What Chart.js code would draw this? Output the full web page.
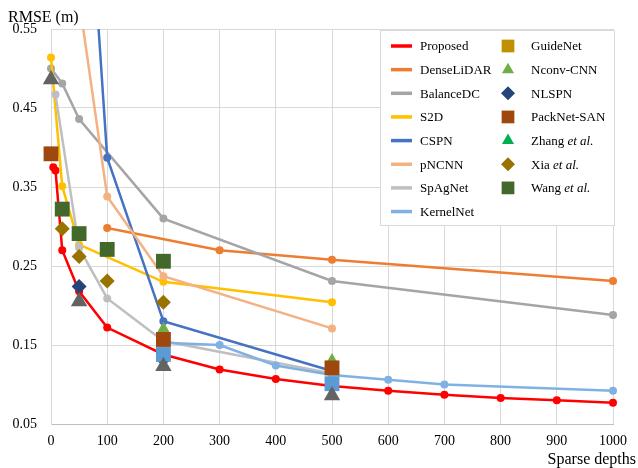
<!DOCTYPE html>
<html>
<head>
<meta charset="utf-8">
<script src="https://cdn.jsdelivr.net/npm/chart.js@4.4.1/dist/chart.umd.min.js"></script>
<style>
    html, body { margin: 0; padding: 0; background: #fff; }
</style>
</head>
<body>
<canvas id="rmseChart" width="638" height="468"></canvas>
<script>
// axis ticks
const depthTicks = [0, 100, 200, 300, 400, 500, 600, 700, 800, 900, 1000];
const rmseTicks = [0.05, 0.15, 0.25, 0.35, 0.45, 0.55];

// line series (sparse depth, RMSE)
const proposedX = [4, 8, 20, 50, 100, 200, 300, 400, 500, 600, 700, 800, 900, 1000];
const proposedY = [0.375, 0.371, 0.270, 0.218, 0.172, 0.138, 0.119, 0.107, 0.098, 0.092, 0.087, 0.083, 0.080, 0.077];
const denseLidarX = [100, 300, 500, 1000];
const denseLidarY = [0.298, 0.270, 0.258, 0.231];
const balanceX = [0, 20, 50, 200, 500, 1000];
const balanceY = [0.500, 0.481, 0.436, 0.310, 0.231, 0.188];
const s2dX = [0, 20, 50, 200, 500];
const s2dY = [0.514, 0.351, 0.277, 0.230, 0.204];
const cspnX = [50, 100, 200, 500];
const cspnY = [0.92, 0.387, 0.180, 0.117];
const pncnnX = [50, 100, 200, 500];
const pncnnY = [0.587, 0.338, 0.237, 0.171];
const spagX = [8, 50, 100, 200, 500];
const spagY = [0.467, 0.273, 0.209, 0.155, 0.114];
const kernelX = [200, 300, 400, 500, 600, 700, 1000];
const kernelY = [0.153, 0.150, 0.124, 0.112, 0.106, 0.100, 0.092];

// single-result methods (markers)
const guideX = [200, 500];
const guideY = [0.157, 0.121];
const nconvX = [200, 500];
const nconvY = [0.171, 0.131];
const nlspnX = [50, 200, 500];
const nlspnY = [0.224, 0.132, 0.097];
const packnetX = [0, 200, 500];
const packnetY = [0.392, 0.157, 0.121];
const zhangX = [500];
const zhangY = [0.088];
const xiaX = [20, 50, 100, 200];
const xiaY = [0.297, 0.262, 0.231, 0.204];
const wangX = [20, 50, 100, 200];
const wangY = [0.322, 0.291, 0.271, 0.256];
// extra markers with no legend entry
const blueSqX = [200, 500];
const blueSqY = [0.138, 0.101];
const grayTriX = [0, 50, 200, 500];
const grayTriY = [0.486, 0.205, 0.123, 0.086];

const serif = '"Liberation Serif", "Times New Roman", serif';

function pts(xs, ys) {
    return xs.map((x, i) => ({ x: x, y: ys[i] }));
}

function lineSet(label, xs, ys, color) {
    return {
        label: label,
        data: pts(xs, ys),
        showLine: true,
        borderColor: color,
        backgroundColor: color,
        borderWidth: 2.5,
        pointRadius: 4,
        pointBorderWidth: 0,
        pointBackgroundColor: color,
        tension: 0,
        clip: { left: 10, top: 0, right: 10, bottom: 10 },
        legendType: 'line'
    };
}

function markerSet(label, xs, ys, color, style, radius, inLegend = true) {
    return {
        label: label,
        data: pts(xs, ys),
        showLine: false,
        backgroundColor: color,
        borderColor: color,
        pointStyle: style,
        pointRadius: radius,
        pointBorderWidth: 0,
        clip: false,
        legendType: inLegend ? 'marker' : 'none'
    };
}

const datasets = [
    lineSet('Proposed', proposedX, proposedY, '#ff0000'),
    lineSet('DenseLiDAR', denseLidarX, denseLidarY, '#ed7d31'),
    lineSet('BalanceDC', balanceX, balanceY, '#a5a5a5'),
    lineSet('S2D', s2dX, s2dY, '#ffc000'),
    lineSet('CSPN', cspnX, cspnY, '#4472c4'),
    lineSet('pNCNN', pncnnX, pncnnY, '#f4b183'),
    lineSet('SpAgNet', spagX, spagY, '#bfbfbf'),
    lineSet('KernelNet', kernelX, kernelY, '#7fb2e2'),
    markerSet('GuideNet', guideX, guideY, '#bf9000', 'rect', 10),
    markerSet('Nconv-CNN', nconvX, nconvY, '#70ad47', 'triangle', 7),
    markerSet('NLSPN', nlspnX, nlspnY, '#264478', 'rectRot', 7.5),
    markerSet('PackNet-SAN', packnetX, packnetY, '#9e480e', 'rect', 10.5),
    markerSet('Zhang et al.', zhangX, zhangY, '#00b050', 'triangle', 7),
    markerSet('Xia et al.', xiaX, xiaY, '#997300', 'rectRot', 7.5),
    markerSet('Wang et al.', wangX, wangY, '#43682b', 'rect', 10.5),
    markerSet('', blueSqX, blueSqY, '#5b9bd5', 'rect', 10.5, false),
    markerSet('', grayTriX, grayTriY, '#636363', 'triangle', 9.5, false)
];
// later series drawn on top, like the source chart
datasets.forEach((d, i) => { d.order = datasets.length - i; });

function drawLabel(ctx, text, x, y) {
    const m = text.match(/^(.*) (et al\.)$/);
    ctx.font = '13px ' + serif;
    if (!m) {
        ctx.fillText(text, x, y);
        return;
    }
    const head = m[1] + ' ';
    ctx.fillText(head, x, y);
    const w = ctx.measureText(head).width;
    ctx.font = 'italic 13px ' + serif;
    ctx.fillText(m[2], x + w, y);
}

const legendBox = {
    id: 'legendBox',
    afterDraw(chart) {
        const ctx = chart.ctx;
        ctx.save();

        // axis titles
        ctx.fillStyle = '#000';
        ctx.font = '16px ' + serif;
        ctx.textBaseline = 'alphabetic';
        ctx.textAlign = 'left';
        ctx.fillText('RMSE (m)', 8, 22);
        ctx.textAlign = 'right';
        ctx.fillText('Sparse depths', 636, 464);

        // legend frame
        ctx.fillStyle = '#fff';
        ctx.fillRect(380, 30, 235, 196);
        ctx.strokeStyle = '#d9d9d9';
        ctx.lineWidth = 1;
        ctx.strokeRect(380.5, 30.5, 234, 195);

        const rowTop = 46;
        const rowStep = 23.65;
        let lineRow = 0;
        let markRow = 0;
        ctx.textAlign = 'left';
        ctx.textBaseline = 'middle';
        chart.data.datasets.forEach(ds => {
            if (ds.legendType === 'line') {
                const y = rowTop + lineRow * rowStep;
                ctx.strokeStyle = ds.borderColor;
                ctx.lineWidth = 3.5;
                ctx.beginPath();
                ctx.moveTo(391, y);
                ctx.lineTo(412, y);
                ctx.stroke();
                ctx.fillStyle = '#000';
                drawLabel(ctx, ds.label, 420, y + 1);
                lineRow++;
            } else if (ds.legendType === 'marker') {
                const y = rowTop + markRow * rowStep;
                ctx.fillStyle = ds.backgroundColor;
                ctx.strokeStyle = ds.backgroundColor;
                const r = ds.pointStyle === 'rect' ? 9 : 7;
                Chart.helpers.drawPoint(ctx, { pointStyle: ds.pointStyle, radius: r, rotation: 0, borderWidth: 0 }, 508, y);
                ctx.fillStyle = '#000';
                drawLabel(ctx, ds.label, 531, y + 1);
                markRow++;
            }
        });
        ctx.restore();
    }
};

new Chart(document.getElementById('rmseChart'), {
    type: 'scatter',
    data: { datasets: datasets },
    options: {
        responsive: false,
        animation: false,
        devicePixelRatio: 1,
        layout: { padding: { top: 29, right: 25, left: 0, bottom: 0 } },
        plugins: {
            legend: { display: false },
            tooltip: { enabled: false }
        },
        scales: {
            x: {
                type: 'linear',
                min: depthTicks[0],
                max: depthTicks[depthTicks.length - 1],
                afterBuildTicks: s => { s.ticks = depthTicks.map(v => ({ value: v })); },
                ticks: {
                    color: '#000',
                    padding: 9,
                    maxRotation: 0,
                    autoSkip: false,
                    callback: v => String(v),
                    font: { family: serif, size: 14 }
                },
                grid: { color: '#d9d9d9', drawTicks: false },
                border: { color: '#bfbfbf' },
                afterFit: s => { s.height = 44; }
            },
            y: {
                type: 'linear',
                min: rmseTicks[0],
                max: rmseTicks[rmseTicks.length - 1],
                afterBuildTicks: s => { s.ticks = rmseTicks.map(v => ({ value: v })); },
                ticks: {
                    color: '#000',
                    padding: 14,
                    callback: v => v.toFixed(2),
                    font: { family: serif, size: 14 }
                },
                grid: { color: '#d9d9d9', drawTicks: false },
                border: { color: '#d9d9d9' },
                afterFit: s => { s.width = 51; }
            }
        }
    },
    plugins: [legendBox]
});
</script>
</body>
</html>
